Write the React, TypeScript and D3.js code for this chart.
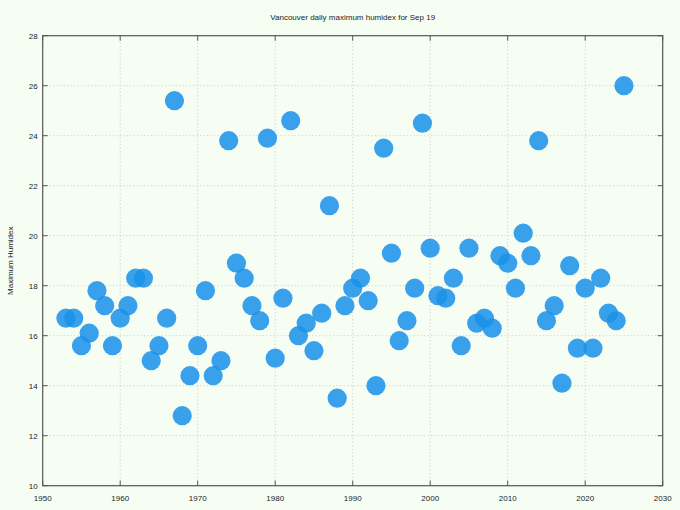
import React from "react";
import * as d3 from "d3";

const years: number[] = [
  1953, 1954, 1955, 1956, 1957, 1958, 1959, 1960, 1961, 1962, 1963, 1964, 1965, 1966, 1967, 1968, 1969,
  1970, 1971, 1972, 1973, 1974, 1975, 1976, 1977, 1978, 1979, 1980, 1981, 1982, 1983, 1984, 1985, 1986,
  1987, 1988, 1989, 1990, 1991, 1992, 1993, 1994, 1995, 1996, 1997, 1998, 1999, 2000, 2001, 2002, 2003,
  2004, 2005, 2006, 2007, 2008, 2009, 2010, 2011, 2012, 2013, 2014, 2015, 2016, 2017, 2018, 2019, 2020,
  2021, 2022, 2023, 2024, 2025,
];
const humidex: number[] = [
  16.7, 16.7, 15.6, 16.1, 17.8, 17.2, 15.6, 16.7, 17.2, 18.3, 18.3, 15.0, 15.6, 16.7, 25.4, 12.8, 14.4,
  15.6, 17.8, 14.4, 15.0, 23.8, 18.9, 18.3, 17.2, 16.6, 23.9, 15.1, 17.5, 24.6, 16.0, 16.5, 15.4, 16.9,
  21.2, 13.5, 17.2, 17.9, 18.3, 17.4, 14.0, 23.5, 19.3, 15.8, 16.6, 17.9, 24.5, 19.5, 17.6, 17.5, 18.3,
  15.6, 19.5, 16.5, 16.7, 16.3, 19.2, 18.9, 17.9, 20.1, 19.2, 23.8, 16.6, 17.2, 14.1, 18.8, 15.5, 17.9,
  15.5, 18.3, 16.9, 16.6, 26.0,
];
const xTicks: number[] = [1950, 1960, 1970, 1980, 1990, 2000, 2010, 2020, 2030];
const yTicks: number[] = [10, 12, 14, 16, 18, 20, 22, 24, 26, 28];

const title = "Vancouver daily maximum humidex for Sep 19";
const yLabel = "Maximum Humidex";

export default function App() {
  const W = 680;
  const H = 510;
  const left = 42.7;
  const right = 662.7;
  const top = 35.7;
  const bottom = 485.7;
  const x = d3.scaleLinear().domain([1950, 2030]).range([left, right]);
  const y = d3.scaleLinear().domain([10, 28]).range([bottom, top]);
  const font = "'Liberation Sans', Arial, Helvetica, sans-serif";
  const axisColor = "#555";
  const tickLen = 5;

  return (
    <svg
      width={W}
      height={H}
      style={{ position: "absolute", left: 0, top: 0, background: "#f6fef4" }}
      fontFamily={font}
    >
      <rect x={0} y={0} width={W} height={H} fill="#f6fef4" />
      {/* grid */}
      {xTicks.slice(1, -1).map((t) => (
        <line key={"gx" + t} x1={x(t)} x2={x(t)} y1={top} y2={bottom} stroke="#bbb" strokeWidth={0.8} strokeDasharray="1,2.5" />
      ))}
      {yTicks.slice(1, -1).map((t) => (
        <line key={"gy" + t} x1={left} x2={right} y1={y(t)} y2={y(t)} stroke="#bbb" strokeWidth={0.8} strokeDasharray="1,2.5" />
      ))}
      {/* points */}
      {years.map((yr, i) => (
        <circle key={yr} cx={x(yr)} cy={y(humidex[i])} r={9.6} fill="rgb(26,145,233)" fillOpacity={0.86} />
      ))}
      {/* frame */}
      <rect x={left} y={top} width={right - left} height={bottom - top} fill="none" stroke={axisColor} strokeWidth={1.2} />
      {/* ticks */}
      {xTicks.map((t) => (
        <g key={"tx" + t}>
          <line x1={x(t)} x2={x(t)} y1={bottom} y2={bottom - tickLen} stroke={axisColor} strokeWidth={1} />
          <line x1={x(t)} x2={x(t)} y1={top} y2={top + tickLen} stroke={axisColor} strokeWidth={1} />
          <text x={x(t)} y={bottom + 15} fontSize={8} textAnchor="middle" fill="#222">
            {t}
          </text>
        </g>
      ))}
      {yTicks.map((t) => (
        <g key={"ty" + t}>
          <line x1={left} x2={left + tickLen} y1={y(t)} y2={y(t)} stroke={axisColor} strokeWidth={1} />
          <line x1={right} x2={right - tickLen} y1={y(t)} y2={y(t)} stroke={axisColor} strokeWidth={1} />
          <text x={left - 5} y={y(t)} dy="0.35em" fontSize={8} textAnchor="end" fill="#222">
            {t}
          </text>
        </g>
      ))}
      <text x={(left + right) / 2} y={20} fontSize={8} textAnchor="middle" fill="#222">
        {title}
      </text>
      <text
        transform={`translate(13,${(top + bottom) / 2}) rotate(-90)`}
        fontSize={8}
        textAnchor="middle"
        fill="#222"
      >
        {yLabel}
      </text>
    </svg>
  );
}
